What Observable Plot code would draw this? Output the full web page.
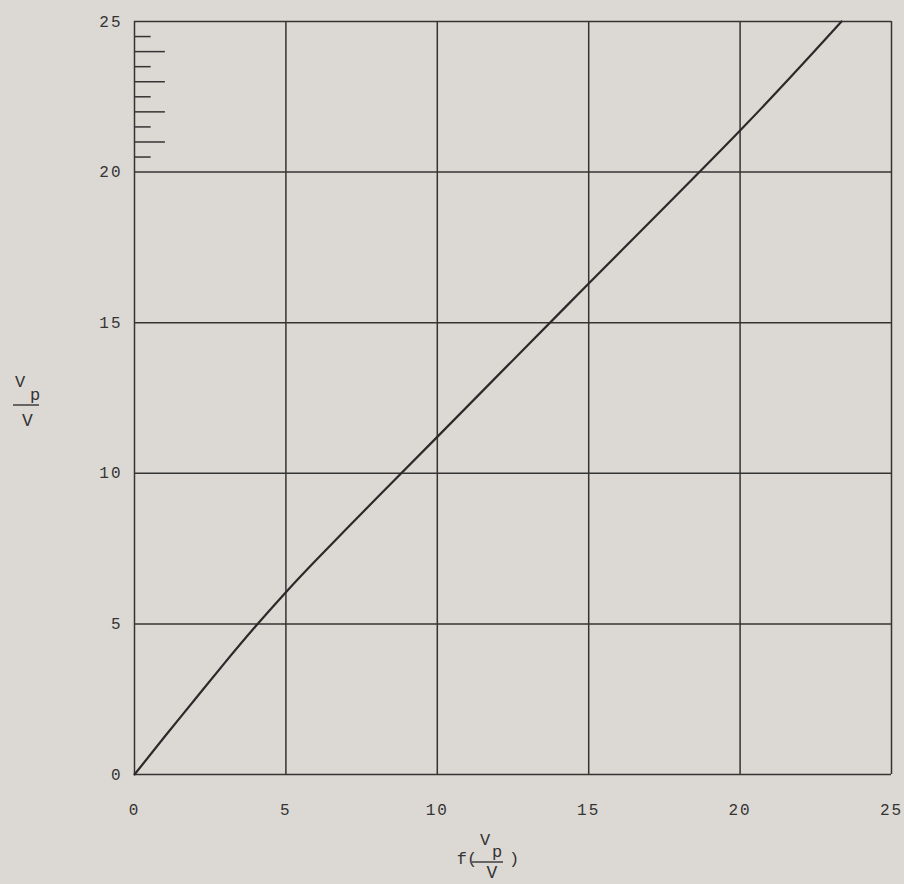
<!DOCTYPE html>
<html>
<head>
<meta charset="utf-8">
<script src="https://cdn.jsdelivr.net/npm/d3@7"></script>
<script src="https://cdn.jsdelivr.net/npm/@observablehq/plot@0.6"></script>
<style>
  html, body { margin: 0; padding: 0; background: #dcd8d3; }
  #chart svg g[aria-label$="tick label"] text { letter-spacing: 2px; }
</style>
</head>
<body>
<div id="chart"></div>
<script>
// Curve f(Vp/V) against Vp/V
const fRatio = [0, 1, 2, 3, 4, 5, 6, 8, 10, 15, 20, 23.35];
const vpRatio = [0, 1.26, 2.5, 3.73, 4.92, 6.05, 7.12, 9.18, 11.21, 16.3, 21.38, 25];

// Grid / tick values shared by both axes
const gridTicks = [0, 5, 10, 15, 20, 25];

// Fine scale marks along the left edge between 20 and 25
const scaleMarks = [20.5, 21, 21.5, 22, 22.5, 23, 23.5, 24, 24.5];

const curve = fRatio.map((x, i) => ({x, y: vpRatio[i]}));
const ink = "#343434";

const W = 904, H = 884;
const mL = 134, mR = 13, mT = 21, mB = 110;

const plot = Plot.plot({
  width: W,
  height: H,
  marginLeft: mL,
  marginRight: mR,
  marginTop: mT,
  marginBottom: mB,
  style: {background: "transparent", fontFamily: "'Liberation Mono', monospace", fontSize: "16px", color: ink},
  x: {domain: [0, 25], ticks: gridTicks, tickSize: 0, tickPadding: 29, label: null},
  y: {domain: [0, 25], ticks: gridTicks, tickSize: 0, tickPadding: 12, label: null},
  marks: [
    Plot.ruleX(gridTicks, {stroke: ink, strokeWidth: 1.5}),
    Plot.ruleY(gridTicks, {stroke: ink, strokeWidth: 1.5}),
    Plot.ruleY(scaleMarks, {x1: 0, x2: d => Number.isInteger(d) ? 1.02 : 0.55, stroke: ink, strokeWidth: 1.5}),
    Plot.line(curve, {x: "x", y: "y", curve: "natural", stroke: "#2a2a2a", strokeWidth: 2.2})
  ]
});

document.getElementById("chart").appendChild(plot);

// Fraction-style axis titles: Vp over V
const svg = d3.select(plot);
const font = "'Liberation Mono', monospace";

function label(g, x, y, size, text) {
  g.append("text").attr("x", x).attr("y", y).attr("text-anchor", "middle")
    .attr("dominant-baseline", "central").attr("font-size", size)
    .attr("fill", ink).text(text);
}

function fraction(g, numX, numY, subX, subY, lineX1, lineX2, lineY, denX, denY) {
  label(g, numX, numY, 17, "V");
  label(g, subX, subY, 17, "p");
  g.append("line").attr("x1", lineX1).attr("x2", lineX2).attr("y1", lineY).attr("y2", lineY)
    .attr("stroke", ink).attr("stroke-width", 1.4);
  label(g, denX, denY, 18, "V");
}

const yTitle = svg.append("g").attr("font-family", font);
fraction(yTitle, 20, 382, 35, 395, 13, 39, 405, 27.5, 421);

const xTitle = svg.append("g").attr("font-family", font);
label(xTitle, 467, 859, 17, "f(");
fraction(xTitle, 485, 840, 497, 852, 472, 503, 862, 492, 873);
label(xTitle, 514, 859, 17, ")");
</script>
</body>
</html>
